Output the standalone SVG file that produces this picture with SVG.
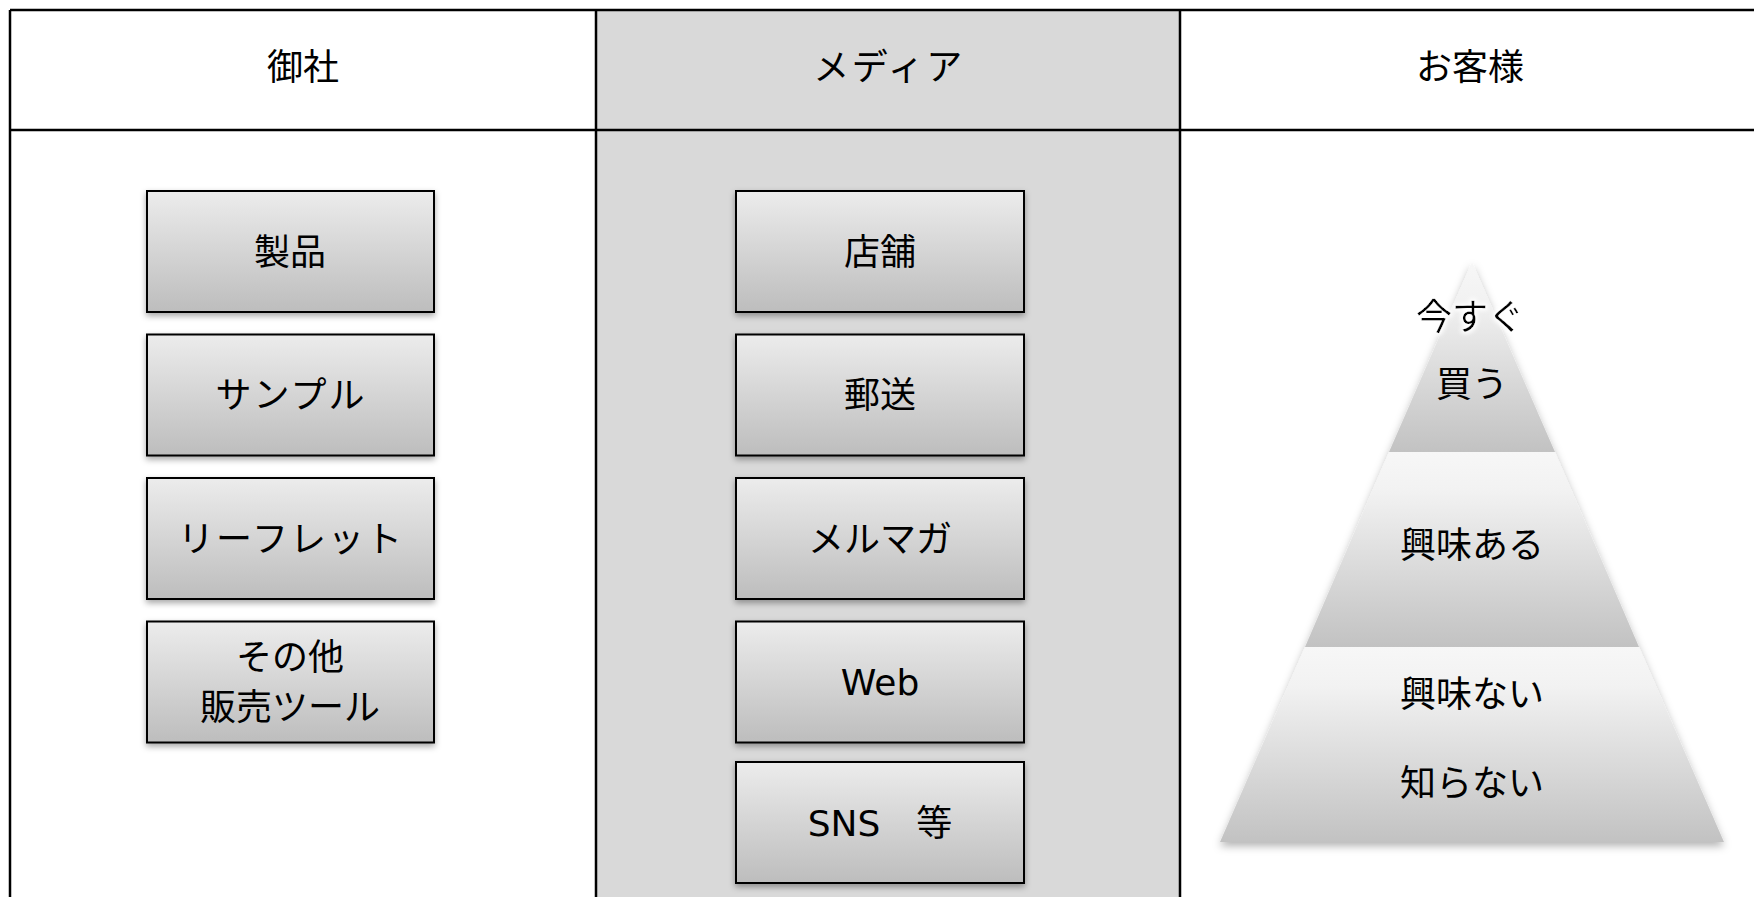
<svg xmlns="http://www.w3.org/2000/svg" width="1754" height="897" viewBox="0 0 1754 897">
<style>
.t{font-family:"Noto Sans CJK JP","Noto Sans",sans-serif;font-size:36px;fill:#000;text-anchor:middle}
.lat{font-family:"DejaVu Sans","Noto Sans CJK JP",sans-serif;font-size:36px;fill:#000;text-anchor:middle}
.box{fill:url(#gBox);stroke:#000;stroke-width:2;filter:url(#sh)}
.grid{stroke:#000;stroke-width:2.5;fill:none}
.tier{stroke:none}
</style>
<defs>
<linearGradient id="gBox" x1="0" y1="0" x2="0" y2="1">
<stop offset="0" stop-color="#ececec"/>
<stop offset="1" stop-color="#bdbdbd"/>
</linearGradient>
<linearGradient id="gTier" x1="0" y1="0" x2="0" y2="1">
<stop offset="0" stop-color="#f7f7f7"/>
<stop offset="0.2" stop-color="#f2f2f2"/>
<stop offset="1" stop-color="#c2c2c2"/>
</linearGradient>
<filter id="sh" x="-10%" y="-10%" width="120%" height="130%">
<feDropShadow dx="0" dy="3" stdDeviation="3" flood-color="#000" flood-opacity="0.35"/>
</filter>
<filter id="psh" x="-10%" y="-10%" width="120%" height="130%">
<feDropShadow dx="0" dy="4" stdDeviation="4" flood-color="#000" flood-opacity="0.3"/>
</filter>
<filter id="glow" x="-20%" y="-40%" width="140%" height="180%">
<feMorphology in="SourceAlpha" operator="dilate" radius="2" result="d"/>
<feGaussianBlur in="d" stdDeviation="2" result="b"/>
<feFlood flood-color="#fff"/>
<feComposite in2="b" operator="in" result="w"/>
<feMerge><feMergeNode in="w"/><feMergeNode in="SourceGraphic"/></feMerge>
</filter>
</defs>

<g id="table">
<rect x="596" y="10" width="584" height="887" fill="#d9d9d9"/>
<line class="grid" x1="10" y1="10" x2="1754" y2="10"/>
<line class="grid" x1="10" y1="130" x2="1754" y2="130"/>
<line class="grid" x1="10" y1="10" x2="10" y2="897"/>
<line class="grid" x1="596" y1="10" x2="596" y2="897"/>
<line class="grid" x1="1180" y1="10" x2="1180" y2="897"/>
<text class="t" x="303" y="80">御社</text>
<text class="t" x="889" y="80" letter-spacing="2.5">メディア</text>
<text class="t" x="1470" y="80">お客様</text>
</g>

<g id="connectors"></g>

<g id="company">
<g id="n-seihin"><rect class="box" x="147" y="191" width="287" height="121"/><text class="t" x="290" y="265">製品</text></g>
<g id="n-sample"><rect class="box" x="147" y="334.5" width="287" height="121"/><text class="t" x="291" y="408" letter-spacing="2">サンプル</text></g>
<g id="n-leaflet"><rect class="box" x="147" y="478" width="287" height="121"/><text class="t" x="291" y="552" letter-spacing="2">リーフレット</text></g>
<g id="n-other"><rect class="box" x="147" y="621.5" width="287" height="121"/><text class="t" x="290" y="670">その他</text><text class="t" x="290" y="720">販売ツール</text></g>
</g>

<g id="media">
<g id="n-store"><rect class="box" x="736" y="191" width="288" height="121"/><text class="t" x="880" y="265">店舗</text></g>
<g id="n-mail"><rect class="box" x="736" y="334.5" width="288" height="121"/><text class="t" x="880" y="408">郵送</text></g>
<g id="n-mag"><rect class="box" x="736" y="478" width="288" height="121"/><text class="t" x="880" y="552">メルマガ</text></g>
<g id="n-web"><rect class="box" x="736" y="621.5" width="288" height="121"/><text class="lat" x="880" y="695">Web</text></g>
<g id="n-sns"><rect class="box" x="736" y="762" width="288" height="121"/><text class="lat" x="880" y="836">SNS　等</text></g>
</g>

<g id="customer">
<g filter="url(#psh)">
<g id="tier-top"><polygon class="tier" points="1472,262 1555,452 1389,452" fill="url(#gTier)"/></g>
<g id="tier-mid"><polygon class="tier" points="1389,452 1555,452 1639,647 1305,647" fill="url(#gTier)"/></g>
<g id="tier-bot"><polygon class="tier" points="1305,647 1639,647 1724,842 1220,842" fill="url(#gTier)"/></g>
</g>
<text class="t" x="1470" y="330" filter="url(#glow)">今すぐ</text>
<text class="t" x="1472" y="397">買う</text>
<text class="t" x="1472" y="558">興味ある</text>
<text class="t" x="1472" y="707">興味ない</text>
<text class="t" x="1472" y="796">知らない</text>
</g>
</svg>
